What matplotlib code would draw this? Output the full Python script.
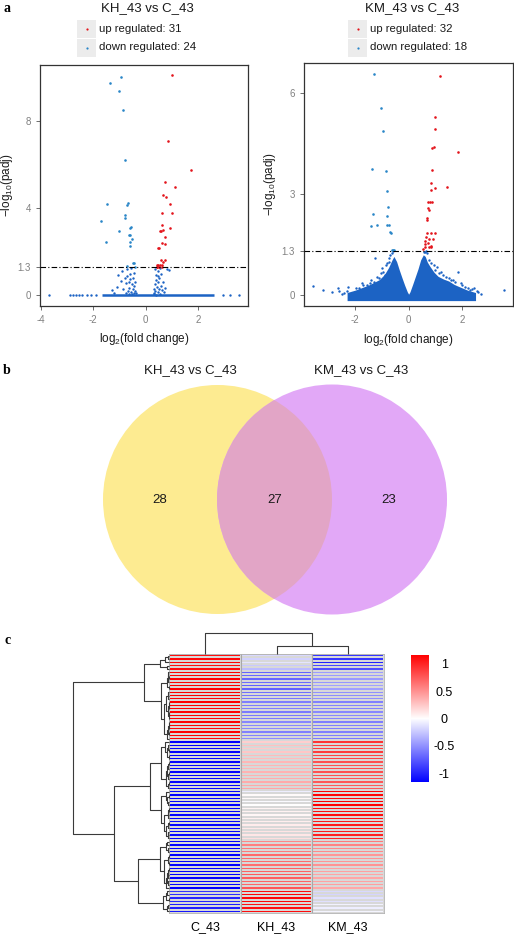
import numpy as np
import matplotlib
matplotlib.use("Agg")
import matplotlib.pyplot as plt
from matplotlib.patches import Circle, Rectangle
from matplotlib.colors import LinearSegmentedColormap

plt.rcParams['font.family'] = ['Liberation Sans', 'DejaVu Sans']
plt.rcParams['mathtext.fontset'] = 'custom'
plt.rcParams['mathtext.rm'] = 'Liberation Sans'
plt.rcParams['mathtext.it'] = 'Liberation Sans:italic'

# ---------------- data: volcano KH_43 vs C_43 ----------------
kh_up_x = [1.00, 0.85, 1.72, 0.73, 1.10, 0.67, 0.77, 0.94, 1.01, 0.62, 0.63, 0.91, 0.55, 0.60, 0.65, 0.72,
           0.62, 0.72, 0.48, 0.51, 0.60, 0.72, 0.42, 0.48, 0.55, 0.63, 0.44, 0.52, 0.61, 0.42, 0.65]
kh_up_y = [10.13, 7.11, 5.78, 5.23, 4.98, 4.61, 4.54, 4.21, 3.77, 3.77, 3.23, 3.11, 2.97, 2.97, 3.00, 2.67,
           2.41, 2.38, 2.16, 2.18, 1.62, 1.61, 1.39, 1.39, 1.38, 1.39, 1.32, 1.32, 1.32, 1.30, 1.55]
kh_down_x = [-0.95, -1.36, -1.01, -0.85, -0.79, -1.48, -0.68, -0.71, -1.71, -0.80, -0.79, -0.57, -0.58, -1.00,
             -0.65, -0.60, -0.51, -1.51, -0.58, -0.60, -0.46, -0.70, -0.49, -0.41]
kh_down_y = [10.02, 9.78, 9.41, 8.54, 6.21, 4.20, 4.23, 4.14, 3.43, 3.69, 3.54, 3.14, 3.08, 2.94,
             2.79, 2.77, 2.59, 2.44, 2.44, 2.28, 1.47, 1.36, 1.47, 1.32]
kh_ns_x = [-1.05, -1.10, -0.95, -0.85, -0.80, -0.75, -0.70, -0.68, -0.65, -0.62, -0.60, -0.58, -0.55, -0.53,
           -0.50, -0.48, -0.46, -0.44, -0.42, -0.40, -0.38, -0.70, -0.55, -0.90, -1.30, -1.20, -0.62, -0.52,
           -0.45, -0.75, 0.30, 0.32, 0.35, 0.37, 0.38, 0.40, 0.42, 0.45, 0.47, 0.48, 0.50, 0.52, 0.55, 0.57,
           0.60, 0.62, 0.65, 0.70, 0.75, 0.80, 0.90, 0.35, 0.45, 0.55, 0.33, 0.40,
           -3.68, -2.88, -2.78, -2.66, -2.53, -2.41, -2.22, -2.09, -1.90, 2.95, 3.20, 3.55]
kh_ns_y = [0.95, 0.40, 0.65, 0.30, 0.80, 0.55, 0.90, 0.20, 0.60, 0.35, 1.00, 0.75, 0.15, 0.50,
           0.30, 0.80, 0.10, 0.45, 0.20, 0.60, 0.10, 1.20, 1.25, 1.10, 0.25, 0.10, 0.05, 0.05,
           1.05, 0.10, 0.10, 0.30, 0.50, 0.20, 0.70, 0.95, 0.40, 0.15, 0.60, 1.10, 0.30, 0.80, 0.05, 0.45,
           1.00, 0.25, 0.60, 0.15, 0.35, 1.20, 1.15, 1.20, 0.90, 1.25, 0.05, 0.03,
           0, 0, 0, 0, 0, 0, 0, 0, 0, 0, 0, 0]
kh_zero_band = [-1.65, 2.62]   # dense run of genes sitting at padj = 1

# ---------------- data: volcano KM_43 vs C_43 ----------------
km_up_x = [1.16, 0.97, 0.99, 0.93, 0.89, 1.84, 0.89, 1.45, 0.82, 0.98, 0.82, 0.73, 0.78, 0.88, 0.73, 0.75,
           0.70, 0.68, 0.84, 0.97, 0.68, 0.65, 0.62, 0.75, 0.91, 0.62, 0.76, 0.84, 0.60, 0.71, 0.82, 0.55]
km_up_y = [6.51, 5.29, 4.93, 4.39, 4.36, 4.26, 3.72, 3.22, 3.34, 3.18, 3.11, 2.78, 2.78, 2.76, 2.58, 2.53,
           2.29, 2.24, 1.86, 1.84, 1.84, 1.74, 1.62, 1.67, 1.68, 1.42, 1.42, 1.42, 1.53, 1.56, 1.47, 1.37]
km_down_x = [-1.31, -1.02, -0.95, -1.37, -0.86, -0.82, -0.76, -1.32, -0.79, -1.40, -1.17, -0.82, -0.72,
             -0.69, -0.66, -0.60, -0.55, -0.63]
km_down_y = [6.57, 5.55, 4.88, 3.74, 3.70, 3.08, 2.61, 2.40, 2.36, 2.06, 2.07, 2.09, 2.09,
             1.87, 1.84, 1.35, 1.33, 1.33]
km_ns_x = [-3.57, -3.20, -2.85, -2.65, -2.50, -2.30, -2.15, -2.00, -1.85, -1.70, -1.60, -1.45, -1.30, -1.10,
           -0.95, -0.85, -0.75, -0.68, -0.90, -1.25, -1.00, -0.62, -0.58, 1.30, 1.50, 1.85, 1.95, 2.10, 2.30,
           2.45, 2.60, 2.70, 3.55, 0.85, 1.05, 0.70, 0.65, 0.60, 1.20, 1.65, -1.55, -2.40,
           -1.95, -1.75, -1.40, -1.20, -1.05, -0.80, 1.00, 1.15, 1.40, 1.60, 1.75, 2.00, 2.20, 0.95, 0.75,
           -2.60, -2.25, 2.35, 2.55, -0.72, 0.57]
km_ns_y = [0.28, 0.16, 0.10, 0.20, 0.05, 0.12, 0.05, 0.10, 0.20, 0.30, 0.15, 0.35, 0.40, 0.50,
           0.70, 0.90, 1.00, 1.20, 0.60, 1.10, 0.80, 1.25, 1.30, 0.60, 0.50, 0.70, 0.35, 0.25, 0.15,
           0.20, 0.10, 0.05, 0.15, 0.95, 0.85, 1.25, 1.30, 1.28, 0.70, 0.45, 0.30, 0.08,
           0.22, 0.35, 0.45, 0.55, 0.65, 0.95, 0.75, 0.65, 0.55, 0.45, 0.40, 0.30, 0.22, 0.90, 1.05,
           0.12, 0.25, 0.18, 0.12, 1.10, 1.28]
# outline of the dense cloud of non-significant genes
km_cloud_x = [-2.3, -2.0, -1.7, -1.5, -1.3, -1.1, -0.9, -0.75, -0.62, -0.55, -0.45, -0.35, -0.25, -0.15, -0.05,
              0.0, 0.05, 0.15, 0.25, 0.35, 0.45, 0.55, 0.62, 0.7, 0.8, 0.95, 1.1, 1.3, 1.5, 1.7, 1.9, 2.2, 2.5]
km_cloud_top = [0.08, 0.15, 0.24, 0.30, 0.38, 0.46, 0.62, 0.82, 1.05, 1.15, 1.0, 0.75, 0.52, 0.3, 0.1,
                0.03, 0.1, 0.32, 0.55, 0.78, 1.05, 1.2, 1.15, 0.98, 0.85, 0.68, 0.56, 0.48, 0.42, 0.32, 0.25,
                0.15, 0.08]
km_cloud_floor = -0.16

# ---------------- data: Venn ----------------
venn_sets = ['KH_43 vs C_43', 'KM_43 vs C_43']
venn_counts = [28, 27, 23]   # only KH, shared, only KM

# ---------------- data: heatmap (row z-scores) ----------------
samples = ['C_43', 'KH_43', 'KM_43']
c_vals = [1.10, 1.08, 1.12, 1.09, 1.11,
          1.15, 1.14, 1.15, 1.13, 1.15, 1.14, 1.15, 1.12, 1.15, 1.14, 1.13, 1.15, 1.14, 1.15, 1.13, 1.15,
          1.14, 1.12, 1.15, 1.14, 1.13,
          -1.14, -1.15, -1.13, -1.15, -1.14, -1.12, -1.15, -1.14, -1.13, -1.15, -1.14, -1.12, -1.15, -1.13, -1.14,
          -1.13, -1.15, -1.14, -1.15, -1.12, -1.15, -1.14, -1.13, -1.15, -1.14, -1.15, -1.13, -1.14, -1.15, -1.12,
          -1.15, -1.14, -1.15, -1.13, -1.15, -1.14, -1.15, -1.12, -1.14, -1.15, -1.13, -1.15, -1.14, -1.15, -1.13,
          -0.92, -0.98, -1.02, -0.95, -1.05, -0.99, -1.01]
kh_vals = [-0.18, -0.25, -0.12, -0.30, -0.20,
           -0.70, -0.68, -0.72, -0.66, -0.69, -0.71, -0.65, -0.62, -0.58, -0.60, -0.55, -0.63, -0.57, -0.59, -0.52,
           -0.61, -0.56, -0.54, -0.60, -0.58, -0.55,
           0.22, 0.28, 0.25, 0.31, 0.26, 0.33, 0.30, 0.35, 0.38, 0.36, 0.40, 0.34, 0.37, 0.39, 0.33,
           -0.08, 0.02, 0.05, -0.02, 0.08, 0.00, 0.04, 0.10, 0.06, 0.12, 0.03, 0.09, 0.15, 0.07, 0.11,
           0.55, 0.58, 0.62, 0.60, 0.68, 0.66, 0.72, 0.70, 0.65, 0.74, 0.69, 0.76, 0.71, 0.67, 0.73,
           1.10, 1.12, 1.08, 1.14, 1.10, 1.13, 1.09]
km_vals = [-0.92, -0.83, -1.00, -0.79, -0.91,
           -0.45, -0.46, -0.43, -0.47, -0.46, -0.43, -0.50, -0.50, -0.57, -0.54, -0.58, -0.52, -0.57, -0.56, -0.61,
           -0.54, -0.58, -0.58, -0.55, -0.56, -0.58,
           0.92, 0.87, 0.88, 0.84, 0.88, 0.79, 0.85, 0.79, 0.75, 0.79, 0.74, 0.78, 0.78, 0.74, 0.81,
           1.14, 1.13, 1.09, 1.17, 1.04, 1.15, 1.10, 1.03, 1.09, 1.02, 1.12, 1.04, 0.99, 1.08, 1.01,
           0.60, 0.56, 0.53, 0.53, 0.47, 0.48, 0.43, 0.42, 0.49, 0.41, 0.44, 0.39, 0.43, 0.48, 0.40,
           -0.18, -0.14, -0.06, -0.19, -0.05, -0.14, -0.08]
cbar_ticks = [-1, -0.5, 0, 0.5, 1]

# ---------------- helpers ----------------
W, H = 514, 935
fig = plt.figure(figsize=(W / 100, H / 100), dpi=100)


def px_axes(left, top, right, bottom, **kw):
    return fig.add_axes([left / W, 1 - bottom / H, (right - left) / W, (bottom - top) / H], **kw)


def complete_linkage(data):
    n = len(data)
    size = 2 * n - 1
    D = np.full((size, size), np.inf)
    D[:n, :n] = np.sqrt(((data[:, None, :] - data[None, :, :]) ** 2).sum(-1))
    np.fill_diagonal(D, np.inf)
    active = set(range(n))
    children, heights = {}, {}
    nxt = n
    while len(active) > 1:
        idx = sorted(active)
        sub = D[np.ix_(idx, idx)]
        k = int(np.argmin(sub))
        a, b = idx[k // len(idx)], idx[k % len(idx)]
        for c in active - {a, b}:
            D[nxt, c] = D[c, nxt] = max(D[a, c], D[b, c])
        children[nxt] = (a, b)
        heights[nxt] = D[a, b]
        active -= {a, b}
        active.add(nxt)
        nxt += 1
    return children, heights, nxt - 1


def leaf_order(node, children, n):
    if node < n:
        return [node]
    a, b = children[node]
    la, lb = leaf_order(a, children, n), leaf_order(b, children, n)
    if min(lb) < min(la):
        la, lb = lb, la
    return la + lb


def draw_dendro(ax, node, children, heights, pos, n, horizontal):
    if node < n:
        return pos[node], 0.0
    a, b = children[node]
    pa, ha = draw_dendro(ax, a, children, heights, pos, n, horizontal)
    pb, hb = draw_dendro(ax, b, children, heights, pos, n, horizontal)
    h = heights[node]
    xs, ys = [ha, h, h, hb], [pa, pa, pb, pb]
    if not horizontal:
        xs, ys = ys, xs
    ax.plot(xs, ys, color='#3a3a3a', lw=0.8, clip_on=False, solid_capstyle='butt')
    return (pa + pb) / 2, h


col_up, col_down, col_ns = '#e3141b', '#2a86c8', '#1c63c4'
grey_txt = '#808080'

# ---------------- volcano plots ----------------
def volcano(ax, up, down, ns, xlim, ylim, yticks, xticks):
    ax.scatter(ns[0], ns[1], s=3, color=col_ns, lw=0, zorder=2)
    ax.scatter(down[0], down[1], s=3.5, color=col_down, lw=0, zorder=3)
    ax.scatter(up[0], up[1], s=3.5, color=col_up, lw=0, zorder=3)
    ax.axhline(1.3, color='black', lw=0.8, ls=(0, (5, 2, 1, 2)), zorder=4)
    ax.set_xlim(xlim)
    ax.set_ylim(ylim)
    ax.set_yticks(yticks)
    ax.set_yticklabels([str(t) for t in yticks])
    ax.set_xticks(xticks)
    ax.set_xticklabels([str(t) for t in xticks])
    ax.tick_params(labelsize=7, colors='#555555', labelcolor=grey_txt, length=3, width=0.6)
    for sp in ax.spines.values():
        sp.set_color('#333333')
        sp.set_linewidth(0.9)
    ax.set_xlabel('log$_2$(fold change)', fontsize=8.5, color='#1a1a1a')
    ax.set_ylabel('$-$log$_{10}$(padj)', fontsize=8.5, color='#1a1a1a')


ax1 = px_axes(40, 65, 248, 306)
ax1.hlines(0, kh_zero_band[0], kh_zero_band[1], color=col_ns, lw=1.8, zorder=2)
volcano(ax1, (kh_up_x, kh_up_y), (kh_down_x, kh_down_y), (kh_ns_x, kh_ns_y),
        (-4.03, 3.9), (-0.49, 10.59), [0, 1.3, 4, 8], [-4, -2, 0, 2])
ax1.xaxis.set_label_coords(0.5, -0.105)
ax1.yaxis.set_label_coords(-0.118, 0.5)

ax2 = px_axes(304, 63, 513, 306)
ax2.fill_between(km_cloud_x, km_cloud_floor, km_cloud_top, color=col_ns, lw=0, zorder=2)
volcano(ax2, (km_up_x, km_up_y), (km_down_x, km_down_y), (km_ns_x, km_ns_y),
        (-3.91, 3.9), (-0.32, 6.89), [0, 1.3, 3, 6], [-2, 0, 2])
ax2.xaxis.set_label_coords(0.5, -0.105)
ax2.yaxis.set_label_coords(-0.125, 0.5)

# overlay in pixel coordinates for titles, legends, Venn
ov = fig.add_axes([0, 0, 1, 1], zorder=-1)
ov.set_xlim(0, W)
ov.set_ylim(H, 0)
ov.axis('off')

for cx, key_x, title, n_up, n_down in [(147, 77, 'KH_43 vs C_43', len(kh_up_x), len(kh_down_x)),
                                       (412, 348, 'KM_43 vs C_43', len(km_up_x), len(km_down_x))]:
    ov.text(cx, 8, title, fontsize=9.5, ha='center', va='center', color='#1a1a1a')
    for ky, lab, col in [(20, f'up regulated: {n_up}', col_up), (38.5, f'down regulated: {n_down}', col_down)]:
        ov.add_patch(Rectangle((key_x, ky), 19, 18, color='#ececec', lw=0))
        ov.plot(key_x + 9.5, ky + 9, 'o', ms=1.6, color=col, mew=0)
        ov.text(key_x + 22, ky + 9, lab, fontsize=8.2, ha='left', va='center', color='#1a1a1a')

# panel letters
for x, y, s in [(7, 8, 'a'), (7, 370, 'b'), (8, 641, 'c')]:
    ov.text(x, y, s, fontsize=10, fontweight='bold', family='Liberation Serif', ha='center', va='center')

# ---------------- Venn ----------------
c1 = Circle((217.5, 499.5), 114.5, color='#fdeb91', lw=0)
c2 = Circle((332, 499.5), 115, color='#e2a8f7', lw=0)
ov.add_patch(c1)
ov.add_patch(c2)
lens = Circle((332, 499.5), 115, color='#e2a5c6', lw=0)
ov.add_patch(lens)
lens.set_clip_path(c1)
ov.text(190, 370, venn_sets[0], fontsize=9.5, ha='center', va='center', color='#1a1a1a')
ov.text(361, 370, venn_sets[1], fontsize=9.5, ha='center', va='center', color='#1a1a1a')
for x, n in zip([160, 275, 389], venn_counts):
    ov.text(x, 500, str(n), fontsize=9.5, ha='center', va='center', color='#1a1a1a')

# ---------------- heatmap with dendrograms ----------------
mat = np.column_stack([c_vals, kh_vals, km_vals])
n_rows = mat.shape[0]
r_children, r_heights, r_root = complete_linkage(mat)
r_order = leaf_order(r_root, r_children, n_rows)
c_children, c_heights, c_root = complete_linkage(mat.T)
c_order = leaf_order(c_root, c_children, 3)

cmap = LinearSegmentedColormap.from_list('bwr_ph', ['#0000ff', '#ffffff', '#ff0000'])
axh = px_axes(169, 654, 384, 913)
mesh = axh.pcolormesh(mat[r_order][:, c_order], cmap=cmap, vmin=-1.155, vmax=1.155,
                      edgecolors='#d8d8d8', linewidth=0.2)
axh.set_ylim(n_rows, 0)
axh.set_xlim(0, 3)
axh.set_yticks([])
axh.set_xticks([0.5, 1.5, 2.5])
axh.set_xticklabels([samples[i] for i in c_order], fontsize=9)
axh.tick_params(length=0, pad=6)
for x in [1, 2]:
    axh.axvline(x, color='#a8a8a8', lw=0.8)
for sp in axh.spines.values():
    sp.set_color('#b0b0b0')
    sp.set_linewidth(0.6)

axr = px_axes(73, 654, 169, 913)
pos = {leaf: i + 0.5 for i, leaf in enumerate(r_order)}
draw_dendro(axr, r_root, r_children, r_heights, pos, n_rows, True)
axr.set_xlim(r_heights[r_root], 0)
axr.set_ylim(n_rows, 0)
axr.axis('off')

axc = px_axes(169, 633, 384, 654)
cpos = {leaf: i + 0.5 for i, leaf in enumerate(c_order)}
draw_dendro(axc, c_root, c_children, c_heights, cpos, 3, False)
axc.set_xlim(0, 3)
axc.set_ylim(0, c_heights[c_root])
axc.axis('off')

cax = px_axes(411, 655, 429, 782)
cb = fig.colorbar(mesh, cax=cax, ticks=cbar_ticks)
cb.outline.set_visible(False)
cb.ax.set_yticklabels([f'{t:g}' for t in cbar_ticks])
cb.ax.tick_params(length=0, labelsize=9, pad=11)
for lab in cb.ax.get_yticklabels():
    lab.set_horizontalalignment('center')

fig.savefig('out.png', dpi=100)
